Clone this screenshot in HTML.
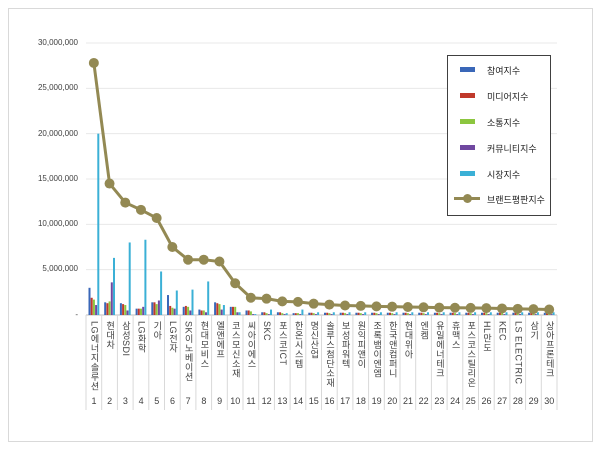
<!DOCTYPE html>
<html><head><meta charset="utf-8"><style>
body{margin:0;background:#fff;}
#w{position:relative;width:600px;height:449px;overflow:hidden;font-family:"Liberation Sans","Noto Sans CJK KR",sans-serif;}
.lab{position:absolute;top:321px;writing-mode:vertical-rl;text-orientation:mixed;font-size:9px;color:#404040;line-height:11px;width:11px;white-space:nowrap;letter-spacing:0.5px;}
.num{position:absolute;top:396px;font-size:9px;color:#404040;width:16px;text-align:center;}
.yl{position:absolute;right:522px;font-size:8px;color:#404040;}
.lt{position:absolute;left:39px;white-space:nowrap;font-size:9px;}
</style></head><body><div id="w">
<div style="position:absolute;left:8px;top:8px;width:583px;height:432px;border:1px solid #d9d9d9;"></div>
<svg id="s" width="600" height="449" style="position:absolute;left:0;top:0"></svg>
<div class="yl" style="top:38px">30,000,000</div>
<div class="yl" style="top:83px">25,000,000</div>
<div class="yl" style="top:129px">20,000,000</div>
<div class="yl" style="top:174px">15,000,000</div>
<div class="yl" style="top:219px">10,000,000</div>
<div class="yl" style="top:264px">5,000,000</div>
<div class="yl" style="top:310px">-</div>
<div id="labs"></div>
<div style="position:absolute;left:447px;top:55px;width:102px;height:159px;border:1px solid #404040;background:#fff;color:#222;">
<div style="position:absolute;left:12px;top:11px;width:15px;height:5px;background:#3a67b8"></div><div class="lt" style="top:8px">참여지수</div>
<div style="position:absolute;left:12px;top:37px;width:15px;height:5px;background:#c0392b"></div><div class="lt" style="top:34px">미디어지수</div>
<div style="position:absolute;left:12px;top:63px;width:15px;height:5px;background:#8cc63f"></div><div class="lt" style="top:60px">소통지수</div>
<div style="position:absolute;left:12px;top:89px;width:15px;height:5px;background:#7048a0"></div><div class="lt" style="top:86px">커뮤니티지수</div>
<div style="position:absolute;left:12px;top:115px;width:15px;height:5px;background:#3bb0d6"></div><div class="lt" style="top:112px">시장지수</div>
<div style="position:absolute;left:6px;top:141px;width:26px;height:3px;background:#938953"></div><div style="position:absolute;left:15px;top:138px;width:9px;height:9px;border-radius:50%;background:#938953"></div><div class="lt" style="top:137px">브랜드평판지수</div>
</div>
</div>
<script>
var names=["LG에너지솔루션","현대차","삼성SDI","LG화학","기아","LG전자","SK이노베이션","현대모비스","엘앤에프","코스모신소재","씨아이에스","SKC","포스코ICT","한온시스템","명신산업","솔루스첨단소재","보성파워텍","원익피앤이","조록뱀이엔엠","한국앤컴퍼니","현대위아","엔켐","유일에너테크","휴맥스","포스코스틸리온","HL만도","KEC","LS ELECTRIC","삼기","상아프론테크"];
var line=[27.8,14.5,12.4,11.6,10.7,7.5,6.1,6.1,5.9,3.5,1.9,1.8,1.5,1.45,1.25,1.15,1.05,1.0,0.95,0.92,0.88,0.85,0.82,0.8,0.78,0.76,0.72,0.68,0.65,0.6];
var bars=[[3,1.9,1.7,1.1,20],[1.4,1.3,1.5,3.6,6.3],[1.3,1.2,1.1,0.5,8],[0.7,0.7,0.7,0.9,8.3],[1.4,1.4,1.2,1.6,4.8],[2.2,1,0.8,0.7,2.7],[0.9,1,0.9,0.5,2.8],[0.6,0.5,0.5,0.3,3.7],[1.4,1.3,1.2,0.6,1.1],[0.9,0.9,0.9,0.3,0.3],[0.5,0.5,0.4,0.1,0.1],[0.3,0.3,0.2,0.1,0.6],[0.3,0.3,0.2,0.1,0.2],[0.2,0.2,0.2,0.1,0.6]];
var cols=["#3a67b8","#c0392b","#8cc63f","#7048a0","#3bb0d6"];
var x0=86,st=15.7,y0=315,k=272/30;
var h='';
for(var i=0;i<=6;i++){var y=y0-i*5*k;h+='<line x1="86" x2="557" y1="'+y+'" y2="'+y+'" stroke="'+(i?'#e8e8e8':'#bfbfbf')+'"/>';}
for(var i=0;i<=30;i++){var x=x0+i*st;h+='<line x1="'+x+'" x2="'+x+'" y1="315" y2="410" stroke="#d9d9d9"/>';}
for(var i=0;i<30;i++){var b=bars[i]||[0.25,0.25,0.2,0.1,0.3];for(var j=0;j<5;j++){var v=b[j]*k;h+='<rect x="'+(x0+i*st+2.5+j*2.2)+'" y="'+(y0-v)+'" width="2" height="'+v+'" fill="'+cols[j]+'"/>';}}
var p='';for(var i=0;i<30;i++){p+=(x0+i*st+st/2)+','+(y0-line[i]*k)+' ';}
h+='<polyline points="'+p+'" fill="none" stroke="#938953" stroke-width="3"/>';
for(var i=0;i<30;i++){h+='<circle cx="'+(x0+i*st+st/2)+'" cy="'+(y0-line[i]*k)+'" r="5" fill="#938953"/>';}
document.getElementById('s').innerHTML=h;
var l='';for(var i=0;i<30;i++){var x=x0+i*st;l+='<div class="lab" style="left:'+(x+2.5)+'px">'+names[i]+'</div><div class="num" style="left:'+x+'px">'+(i+1)+'</div>';}
document.getElementById('labs').innerHTML=l;
</script>
</body></html>
